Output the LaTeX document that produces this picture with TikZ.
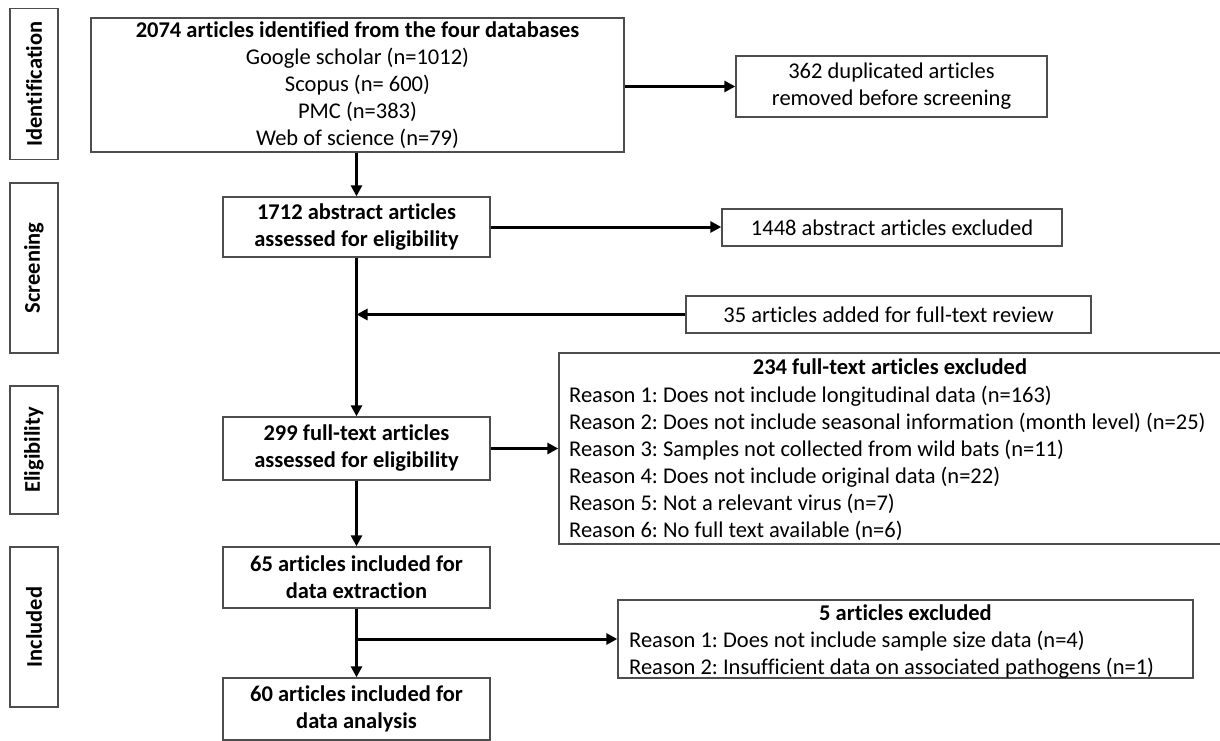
\documentclass[tikz,border=0pt]{standalone}
\usepackage{fontspec}
\setmainfont{Carlito}[RawFeature=-liga]
\usetikzlibrary{arrows.meta}
\definecolor{boxgray}{HTML}{4D4D4D}
\newcommand\diafont{\fontsize{22.5}{27}\selectfont}
\frenchspacing
\begin{document}
\frenchspacing
\begin{tikzpicture}[x=1pt,y=-1pt,
  box/.style={draw=boxgray, line width=1.4pt, inner sep=0pt, align=center, font=\diafont, fill=white},
  boldbox/.style={box, font=\diafont\bfseries, minimum width=267pt},
  lab/.style={draw=boxgray, line width=1.4pt, rotate=90, minimum height=48pt, inner sep=0pt, font=\diafont\bfseries},
  conn/.style={line width=3pt, -{Triangle[length=11pt,width=11pt]}},
  txt/.style={inner sep=0pt, font=\diafont}]
\useasboundingbox (0,0) rectangle (1220,741);
% stage labels
\node[lab, minimum width=151pt] (lid) at (34,84) {Identification};
\node[lab, minimum width=170pt] (lsc) at (34,268) {Screening};
\node[lab, minimum width=128pt] (lel) at (34,450) {Eligibility};
\node[lab, minimum width=160pt] (lin) at (34,627) {Included};
% main column
\node[box, minimum width=533pt, minimum height=134pt] (b1) at (357.5,85)
  {\textbf{2074 articles identified from the four databases}\\Google scholar (n=1012)\\Scopus (n= 600)\\PMC (n=383)\\Web of science (n=79)};
\node[boldbox, minimum height=60pt] (b2) at (356.5,227) {1712 abstract articles\\assessed for eligibility};
\node[boldbox, minimum height=63pt] (b3) at (356.5,448.5) {299 full-text articles\\assessed for eligibility};
\node[boldbox, minimum height=61pt] (b4) at (356.5,577.5) {65 articles included for\\data extraction};
\node[boldbox, minimum height=62pt] (b5) at (356.5,709) {60 articles included for\\data analysis};
% side boxes
\node[box, minimum width=311pt, minimum height=61pt] (r1) at (891.5,86.5) {362 duplicated articles\\removed before screening};
\node[box, minimum width=340pt, minimum height=37pt] (r2) at (892,227.5) {1448 abstract articles excluded};
\node[box, minimum width=405pt, minimum height=37pt] (a35) at (888.5,314.5) {35 articles added for full-text review};
\node[box, minimum width=662pt, minimum height=191pt] (r3) at (890,448.5) {};
\node[txt, font=\diafont\bfseries] (r3t) at (890,367) {234 full-text articles excluded};
\node[txt, anchor=west, align=left] (r3r) at (569,463)
  {Reason 1: Does not include longitudinal data (n=163)\\
   Reason 2: Does not include seasonal information (month level) (n=25)\\
   Reason 3: Samples not collected from wild bats (n=11)\\
   Reason 4: Does not include original data (n=22)\\
   Reason 5: Not a relevant virus (n=7)\\
   Reason 6: No full text available (n=6)};
\node[box, minimum width=575pt, minimum height=78pt] (r5) at (905.5,639) {};
\node[txt, font=\diafont\bfseries] (r5t) at (905.5,613) {5 articles excluded};
\node[txt, anchor=west, align=left] (r5r) at (629,654.5)
  {Reason 1: Does not include sample size data (n=4)\\Reason 2: Insufficient data on associated pathogens (n=1)};
% connectors
\draw[conn] (b1.south -| b2.north) -- (b2.north);
\draw[conn] (b1.east |- r1.west) -- (r1.west);
\draw[conn] (b2.east) -- (b2.east -| r2.west);
\draw[conn] (b2.south) -- (b3.north);
\coordinate (m35) at (b2.south |- a35.west);
\draw[conn] (a35.west) -- (m35);
\draw[conn] (b3.east) -- (b3.east -| r3.west);
\draw[conn] (b3.south) -- (b4.north);
\draw[conn] (b4.south) -- (b5.north);
\coordinate (m5) at (b4.south |- r5.west);
\draw[conn] (m5) -- (r5.west);
\end{tikzpicture}
\end{document}
